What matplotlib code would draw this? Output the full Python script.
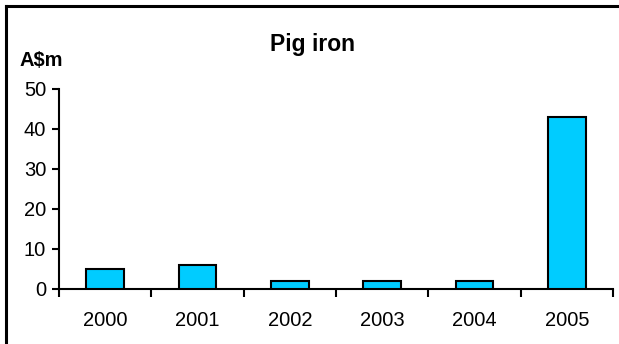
import matplotlib
matplotlib.use('Agg')
import matplotlib.pyplot as plt
from matplotlib.lines import Line2D
import numpy as np

years = ['2000', '2001', '2002', '2003', '2004', '2005']
values = [5, 6, 2, 2, 2, 43]

plt.rcParams['font.family'] = ['Liberation Sans', 'DejaVu Sans']

fig = plt.figure(figsize=(6.19, 3.44), dpi=100)
ax = fig.add_axes([59 / 619, 1 - 289 / 344, (613 - 59) / 619, 200 / 344])

x = np.arange(len(years))
ax.bar(x, values, width=0.41, color='#00CCFF', edgecolor='black', linewidth=1.5, zorder=3)

ax.set_xlim(-0.5, len(years) - 0.5)
ax.set_ylim(0, 50)
ax.set_yticks([0, 10, 20, 30, 40, 50])

# category separators as major ticks, year labels on minor ticks
ax.set_xticks(np.arange(-0.5, len(years), 1.0))
ax.set_xticklabels([])
ax.set_xticks(x, minor=True)
ax.set_xticklabels(years, minor=True)
ax.tick_params(axis='x', which='major', direction='out', length=5.5, width=1.5)
ax.tick_params(axis='x', which='minor', length=0, pad=16, labelsize=14.5)
ax.tick_params(axis='y', direction='out', length=5.3, width=1.5, pad=4, labelsize=14.5)

for s in ['top', 'right']:
    ax.spines[s].set_visible(False)
for s in ['left', 'bottom']:
    ax.spines[s].set_linewidth(1.5)

fig.text(313 / 619, 1 - 51 / 344, 'Pig iron', ha='center', va='baseline',
         fontsize=16.5, fontweight='bold')
fig.text(20 / 619, 1 - 66 / 344, 'A$m', ha='left', va='baseline',
         fontsize=14.5, fontweight='bold')

# chart frame (top and left edges)
fig.add_artist(Line2D([6 / 619, 1], [1 - 6 / 344] * 2, color='black', lw=2.2,
                      transform=fig.transFigure))
fig.add_artist(Line2D([6 / 619] * 2, [0, 1 - 6 / 344], color='black', lw=2.2,
                      transform=fig.transFigure))

plt.savefig('out.png', dpi=100)
